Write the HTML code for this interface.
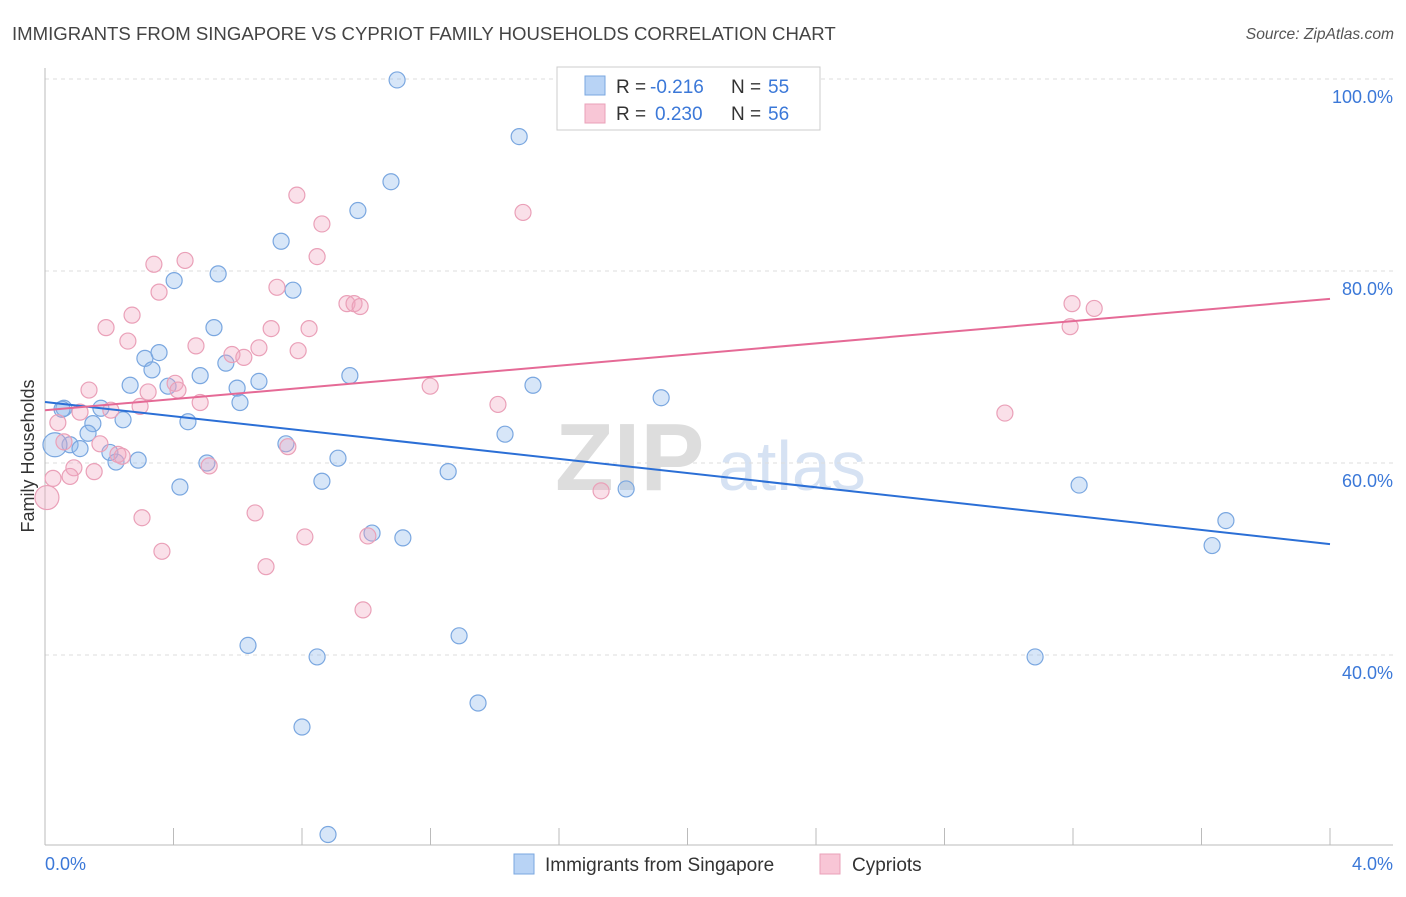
<!DOCTYPE html>
<html><head><meta charset="utf-8"><style>
body{margin:0;background:#fff;font-family:"Liberation Sans",sans-serif}
svg text{font-family:"Liberation Sans",sans-serif}
</style></head><body>
<svg id="c" width="1406" height="892" xmlns="http://www.w3.org/2000/svg">
<text x="12" y="40" font-size="18.6" fill="#444">IMMIGRANTS FROM SINGAPORE VS CYPRIOT FAMILY HOUSEHOLDS CORRELATION CHART</text>
<text x="1394" y="39" font-size="15.6" fill="#555" text-anchor="end" font-style="italic">Source: ZipAtlas.com</text>
<g><text x="555" y="490" font-size="96" fill="#ddd" font-family="Liberation Serif" font-weight="bold">ZIP</text><text x="718" y="490" font-size="70" fill="#d6e2f3">atlas</text></g>
<g id="grid"></g><g id="pts"></g><g id="lines"></g>
<text transform="translate(34,456) rotate(-90)" font-size="18" fill="#333" text-anchor="middle">Family Households</text>
<text x="45" y="870" font-size="18" fill="#3b78d8">0.0%</text>
<text x="1393" y="870" font-size="18" fill="#3b78d8" text-anchor="end">4.0%</text>
<g>
<rect x="557" y="67" width="263" height="63" fill="#fff" stroke="#ccc"/>
<rect x="585" y="76" width="20" height="19" fill="#b8d3f5" stroke="#7aa7e0"/>
<rect x="585" y="104" width="20" height="19" fill="#f8c6d6" stroke="#eaa0b8"/>
<text x="616" y="93" font-size="19" fill="#333">R =</text>
<text x="650" y="93" font-size="19" fill="#3b78d8">-0.216</text>
<text x="731" y="93" font-size="19" fill="#333">N =</text>
<text x="768" y="93" font-size="19" fill="#3b78d8">55</text>
<text x="616" y="120" font-size="19" fill="#333">R =</text>
<text x="655" y="120" font-size="19" fill="#3b78d8">0.230</text>
<text x="731" y="120" font-size="19" fill="#333">N =</text>
<text x="768" y="120" font-size="19" fill="#3b78d8">56</text>
</g>
<g>
<rect x="514" y="854" width="20" height="20" fill="#b8d3f5" stroke="#7aa7e0"/>
<text x="545" y="871" font-size="19" fill="#333">Immigrants from Singapore</text>
<rect x="820" y="854" width="20" height="20" fill="#f8c6d6" stroke="#eaa0b8"/>
<text x="852" y="871" font-size="19" fill="#333">Cypriots</text>
</g>
</svg>
<script>
const yTicks=[100,80,60,40];
const yTickLabels=["100.0%","80.0%","60.0%","40.0%"];
const xTicks=[0,0.4,0.8,1.2,1.6,2.0,2.4,2.8,3.2,3.6,4.0];
const blueX=[1.096,1.476,1.077,0.974,0.735,0.402,0.539,0.772,0.526,0.311,0.355,0.333,0.563,0.483,0.383,0.265,0.598,0.666,0.949,0.607,0.174,0.059,0.243,0.149,0.134,0.445,1.519,1.918,1.432,0.078,0.109,0.202,0.221,0.290,0.504,0.750,0.912,1.255,0.862,0.420,1.809,3.219,3.676,3.633,1.018,1.114,0.632,0.847,1.289,3.082,1.348,0.800,0.881,0.031,0.053];
const blueY=[99.9,94.0,89.3,86.3,83.1,79.0,79.7,78.0,74.1,70.9,71.5,69.7,70.4,69.1,68.0,68.1,67.8,68.5,69.1,66.3,65.7,65.7,64.5,64.1,63.1,64.3,68.1,66.8,63.0,61.9,61.5,61.1,60.1,60.3,60.0,62.0,60.5,59.1,58.1,57.5,57.3,57.7,54.0,51.4,52.7,52.2,41.0,39.8,42.0,39.8,35.0,32.5,21.3,61.9,65.6];
const pinkX=[0.784,1.488,0.862,0.847,0.436,0.339,0.355,0.722,0.940,0.962,0.981,0.271,0.190,0.704,0.822,0.258,0.470,0.666,0.788,0.582,0.619,0.405,0.137,0.414,0.321,1.199,0.483,0.296,0.205,0.109,0.040,0.059,0.171,0.227,0.240,0.511,0.756,0.090,0.153,0.078,0.025,0.006,0.302,0.654,0.364,0.809,1.005,0.688,0.990,1.410,1.731,2.988,3.197,3.266,3.191];
const pinkY=[87.9,86.1,84.9,81.5,81.1,80.7,77.8,78.3,76.6,76.6,76.3,75.4,74.1,74.0,74.0,72.7,72.2,72.0,71.7,71.3,71.0,68.3,67.6,67.6,67.4,68.0,66.3,65.9,65.5,65.3,64.2,62.2,62.0,60.9,60.7,59.7,61.7,59.5,59.1,58.6,58.4,56.4,54.3,54.8,50.8,52.3,52.4,49.2,44.7,66.1,57.1,65.2,76.6,76.1,74.2];
const blueTrend=[66.35,-3.70];
const pinkTrend=[65.5,2.90];
const X=v=>45+v/4*1285, Y=v=>79+(100-v)*9.6;
const NS="http://www.w3.org/2000/svg";
function mk(t,a,p){const e=document.createElementNS(NS,t);for(const k in a)e.setAttribute(k,a[k]);p.appendChild(e);return e;}
const g=document.getElementById('grid');
yTicks.forEach((t,i)=>{const l=mk('line',{x1:45,x2:1393,y1:Y(t),y2:Y(t),stroke:'#ddd','stroke-dasharray':'4,4'},g);


const tx=mk('text',{x:1393,y:Y(t)+24,'font-size':18,fill:'#3b78d8','text-anchor':'end'},g);tx.textContent=yTickLabels[i];

});
const ax=mk('line',{x1:45,x2:45,y1:68,y2:845,stroke:'#bbb'},g);


const bx=mk('line',{x1:45,x2:1393,y1:845,y2:845,stroke:'#bbb'},g);


xTicks.forEach(t=>{const l=mk('line',{x1:X(t),x2:X(t),y1:828,y2:845,stroke:'#bbb'},g);

});
const p=document.getElementById('pts');
function pts(xs,ys,fill,stroke,name){xs.forEach((x,i)=>{const big=(x<0.035&&(ys[i]>61.5&&ys[i]<62.5||ys[i]<57));
const c=mk('circle',{cx:X(x),cy:Y(ys[i]),r:big?12:8,fill:fill,stroke:stroke,'stroke-width':1.2},p);

});}
pts(blueX,blueY,'rgba(140,182,235,0.35)','#7aa7e0','singapore-point');
pts(pinkX,pinkY,'rgba(242,165,192,0.35)','#eaa0b8','cypriot-point');
const L=document.getElementById('lines');
const b=mk('line',{x1:X(0),y1:Y(blueTrend[0]),x2:X(4),y2:Y(blueTrend[0]+4*blueTrend[1]),stroke:'#2b6fd6','stroke-width':2},L);


const q=mk('line',{x1:X(0),y1:Y(pinkTrend[0]),x2:X(4),y2:Y(pinkTrend[0]+4*pinkTrend[1]),stroke:'#e56a96','stroke-width':2},L);


</script>
</body></html>
